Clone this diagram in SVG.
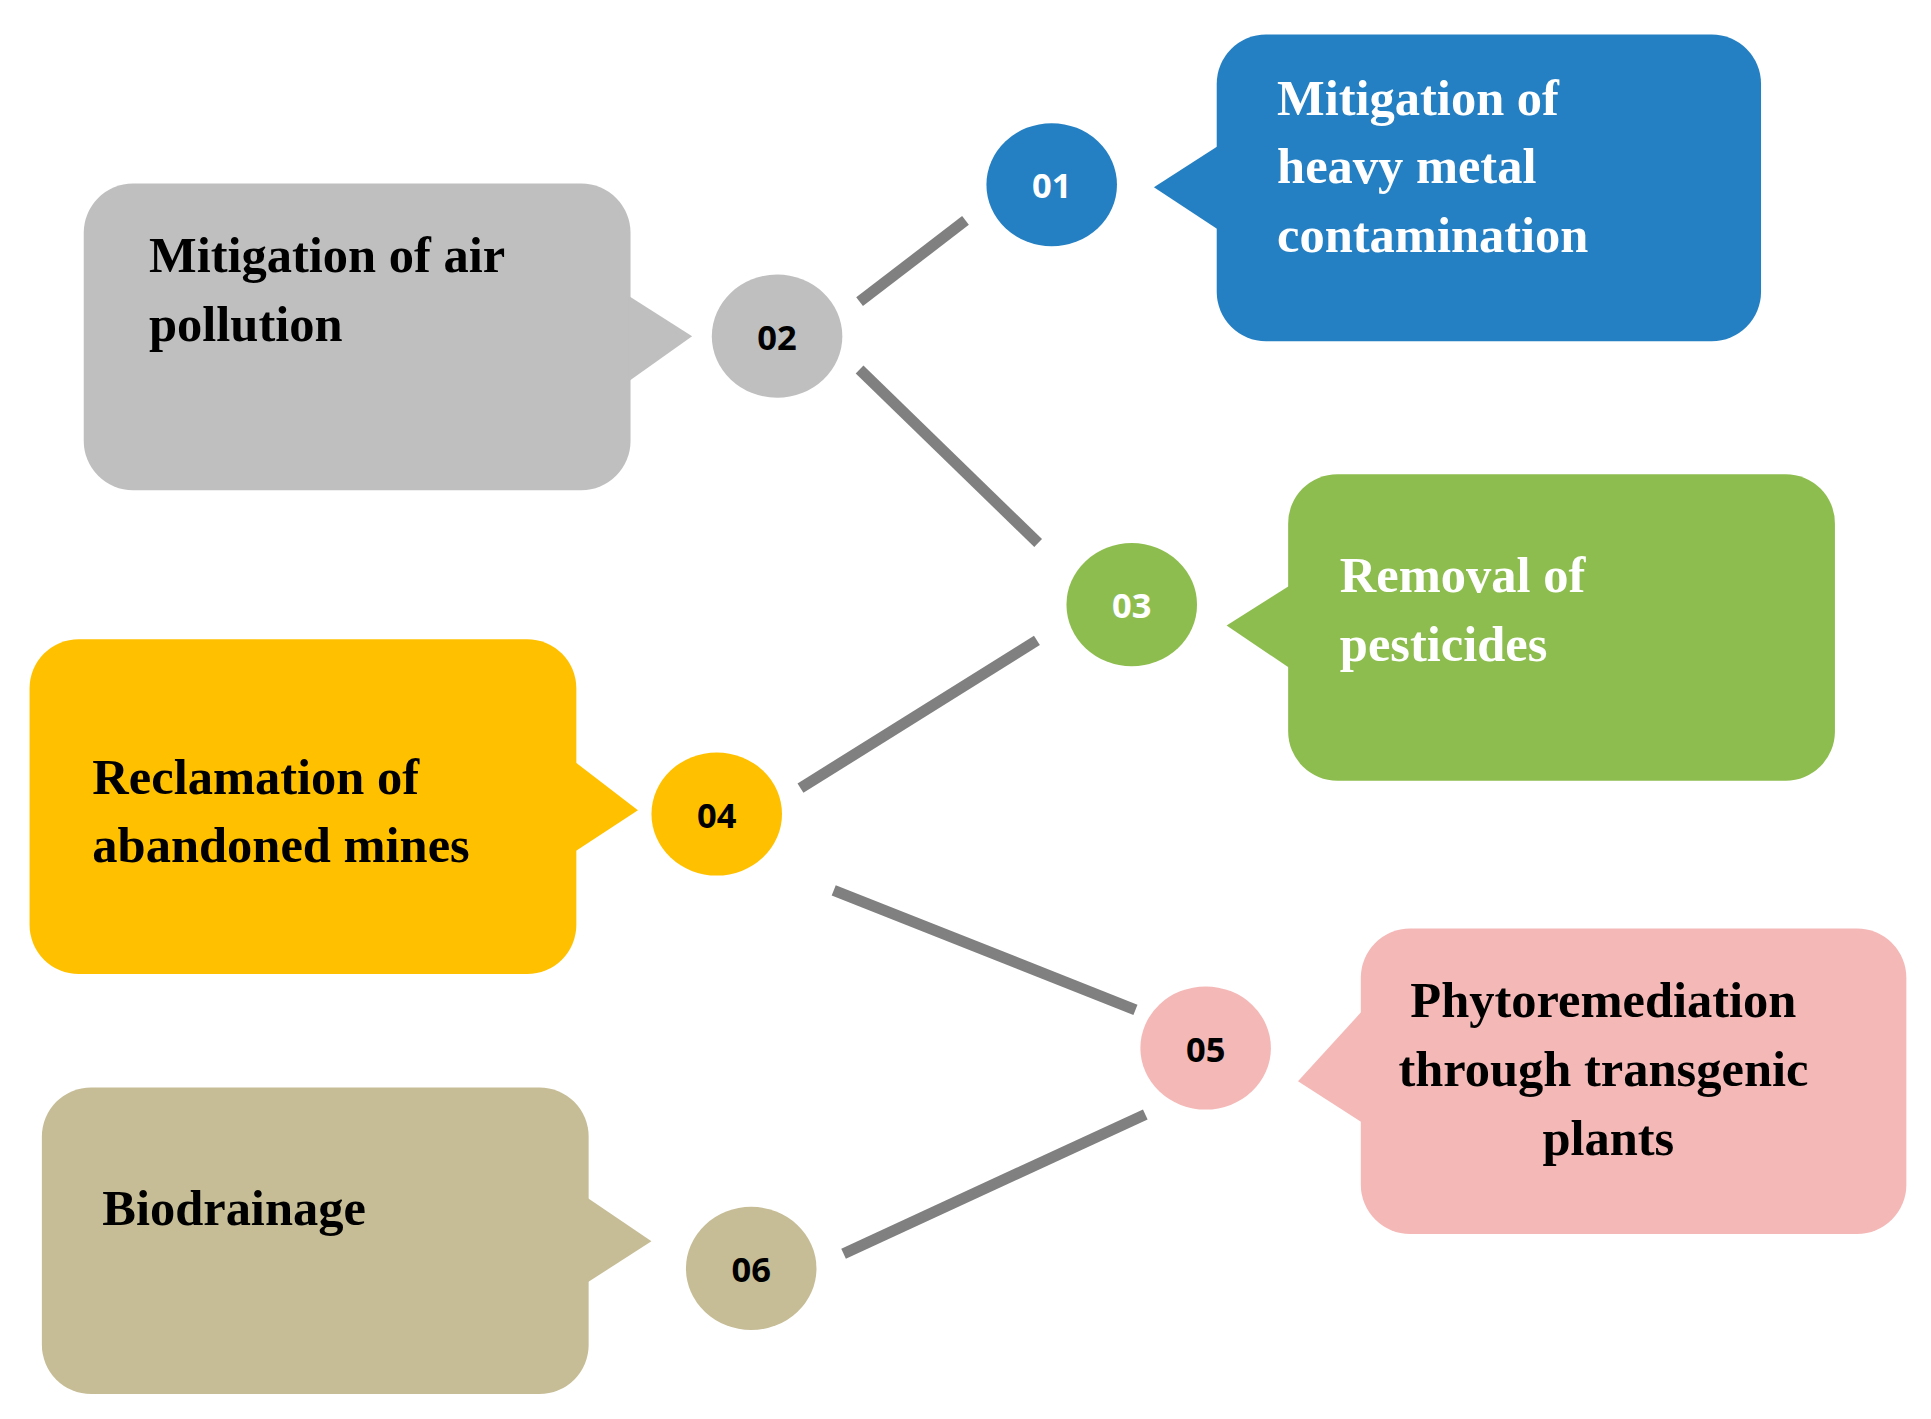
<svg xmlns="http://www.w3.org/2000/svg" width="1931" height="1419" viewBox="0 0 1931 1419">
<style>
.t{font-family:"Liberation Serif","Times New Roman",serif;font-weight:bold;font-size:41px}
.n{font-family:"Open Sans","Liberation Sans",sans-serif;font-weight:bold;font-size:28px;text-anchor:middle;fill:#000}
.c{stroke:#808080;stroke-width:9;fill:none}
</style>
<rect width="1931" height="1419" fill="#fff"/>
<g transform="scale(1.2315)">
<g id="connectors">
<line class="c" x1="698" y1="245" x2="784" y2="179"/>
<line class="c" x1="698" y1="300" x2="843" y2="441"/>
<line class="c" x1="650" y1="640" x2="842" y2="520"/>
<line class="c" x1="677" y1="723" x2="922" y2="820"/>
<line class="c" x1="685" y1="1018" x2="930" y2="905"/>
</g>
<g id="n02" fill="#BFBFBF">
<rect x="68" y="149" width="444" height="249" rx="40"/>
<polygon points="510,240 562,273 510,310"/>
<ellipse cx="631" cy="273" rx="53" ry="50"/>
<text class="t" fill="#000" x="121" y="221">Mitigation of air</text>
<text class="t" fill="#000" x="121" y="277">pollution</text>
<text class="n" x="631" y="284">02</text>
</g>
<g id="n01" fill="#2580C3">
<rect x="988" y="28" width="442" height="249" rx="40"/>
<polygon points="990,118 937,152 990,187"/>
<ellipse cx="854" cy="150" rx="53" ry="50"/>
<text class="t" fill="#fff" x="1037" y="93">Mitigation of</text>
<text class="t" fill="#fff" x="1037" y="149">heavy metal</text>
<text class="t" fill="#fff" x="1037" y="205">contamination</text>
<text class="n" x="854" y="161" fill="#fff" style="fill:#fff">01</text>
</g>
<g id="n03" fill="#8EBD4F">
<rect x="1046" y="385" width="444" height="249" rx="40"/>
<polygon points="1048,475 996,508 1048,543"/>
<ellipse cx="919" cy="491" rx="53" ry="50"/>
<text class="t" fill="#fff" x="1088" y="481">Removal of</text>
<text class="t" fill="#fff" x="1088" y="537">pesticides</text>
<text class="n" x="919" y="502" style="fill:#fff">03</text>
</g>
<g id="n04" fill="#FFC000">
<rect x="24" y="519" width="444" height="272" rx="40"/>
<polygon points="466,618 518,658 466,692"/>
<ellipse cx="582" cy="661" rx="53" ry="50"/>
<text class="t" fill="#000" x="75" y="645">Reclamation of</text>
<text class="t" fill="#000" x="75" y="700">abandoned mines</text>
<text class="n" x="582" y="672">04</text>
</g>
<g id="n05" fill="#F4B8B7">
<rect x="1105" y="754" width="443" height="248" rx="40"/>
<polygon points="1107,820 1054,878 1107,912"/>
<ellipse cx="979" cy="851" rx="53" ry="50"/>
<text class="t" fill="#000" x="1302" y="826" text-anchor="middle">Phytoremediation</text>
<text class="t" fill="#000" x="1302" y="882" text-anchor="middle">through transgenic</text>
<text class="t" fill="#000" x="1306" y="938" text-anchor="middle">plants</text>
<text class="n" x="979" y="862">05</text>
</g>
<g id="n06" fill="#C6BD96">
<rect x="34" y="883" width="444" height="249" rx="40"/>
<polygon points="476,972 529,1008 476,1042"/>
<ellipse cx="610" cy="1030" rx="53" ry="50"/>
<text class="t" fill="#000" x="83" y="995">Biodrainage</text>
<text class="n" x="610" y="1041">06</text>
</g>
</g>
</svg>
